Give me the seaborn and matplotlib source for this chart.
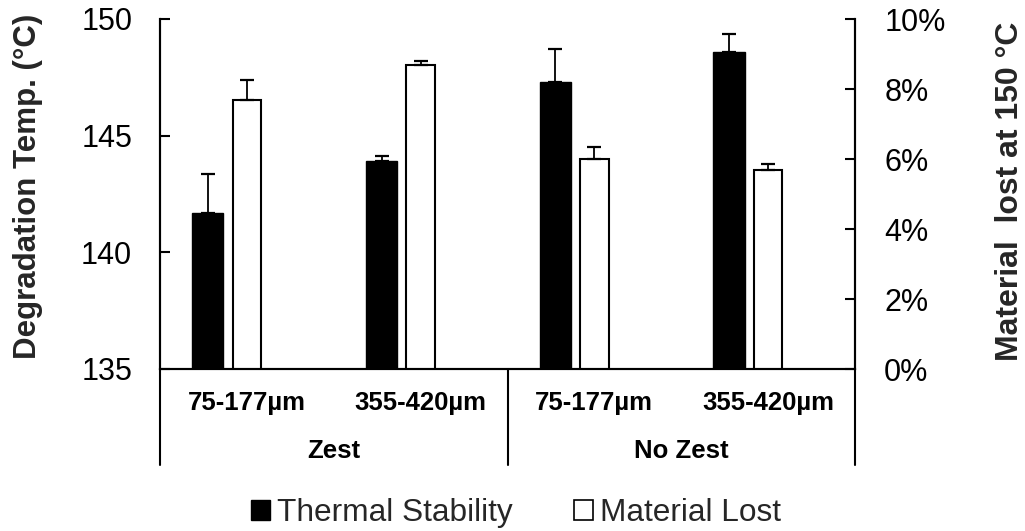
import numpy as np
import pandas as pd
import matplotlib
matplotlib.use("Agg")
import matplotlib.pyplot as plt
import matplotlib.transforms as mtransforms
from matplotlib.patches import Patch
from matplotlib.ticker import PercentFormatter, FixedLocator
import seaborn as sns

# ---------------- data ----------------
sizes = ["75-177µm", "355-420µm", "75-177µm", "355-420µm"]
groups = ["Zest", "No Zest"]
thermal = [141.7, 143.9, 147.3, 148.6]          # °C (left axis)
thermal_err = [1.65, 0.23, 1.41, 0.74]
lost = [0.0769, 0.0869, 0.0601, 0.0569]         # fraction (right axis)
lost_err = [0.0058, 0.0011, 0.0034, 0.0018]
left_ticks = [135, 140, 145, 150]
right_ticks = [0.0, 0.02, 0.04, 0.06, 0.08, 0.10]

sns.set_theme(style="ticks")
plt.rcParams["font.family"] = ["Liberation Sans", "DejaVu Sans"]

W, H = 1025, 531
fig = plt.figure(figsize=(W / 100, H / 100), dpi=100)
x0, x1, y0, y1 = 160, 855, 19, 369
ax = fig.add_axes([x0 / W, (H - y1) / H, (x1 - x0) / W, (y1 - y0) / H])
ax2 = ax.twinx()

idx = np.arange(len(sizes))
black_off = -0.225
df_t = pd.DataFrame({"pos": idx + black_off, "val": thermal})
df_l = pd.DataFrame({"pos": idx.astype(float), "val": lost})

sns.barplot(data=df_t, x="pos", y="val", native_scale=True, width=0.18,
            color="black", saturation=1, errorbar=None, ax=ax,
            edgecolor="black", linewidth=1.0)
sns.barplot(data=df_l, x="pos", y="val", native_scale=True, width=0.164,
            color="white", saturation=1, errorbar=None, ax=ax2,
            edgecolor="black", linewidth=1.5)

ax.errorbar(df_t["pos"], thermal, yerr=[np.zeros(4), thermal_err], fmt="none",
            ecolor="black", elinewidth=1.3, capsize=5, capthick=1.6)
ax2.errorbar(df_l["pos"], lost, yerr=[np.zeros(4), lost_err], fmt="none",
             ecolor="black", elinewidth=1.3, capsize=5, capthick=1.6)

for a in (ax, ax2):
    a.set_xlim(-0.5, 3.5)
    a.set_xlabel("")
    a.set_ylabel("")
    a.set_xticks([])
    a.spines["top"].set_visible(False)
    for s in ("left", "right", "bottom"):
        a.spines[s].set_linewidth(1.5)
        a.spines[s].set_color("black")

ax.set_ylim(135, 150)
ax.yaxis.set_major_locator(FixedLocator(left_ticks))
ax2.set_ylim(0, 0.10)
ax2.yaxis.set_major_locator(FixedLocator(right_ticks))
ax2.yaxis.set_major_formatter(PercentFormatter(1.0, decimals=0))

ax.tick_params(axis="y", direction="in", length=7, width=1.5, labelsize=22,
               pad=20, colors="black")
ax2.tick_params(axis="y", direction="in", length=7, width=1.5, labelsize=22,
                pad=21, colors="black")
ax.tick_params(axis="x", length=0)
ax2.tick_params(axis="x", length=0)

# multi-level category labels
trans = mtransforms.blended_transform_factory(ax.transData, ax.transAxes)
for i, s in enumerate(sizes):
    ax.text(i, -0.097, s, transform=trans, ha="center", va="center",
            fontsize=18.5, fontweight="bold", color="black")
for g, gname in enumerate(groups):
    ax.text(2 * g + 0.5, -0.233, gname, transform=trans, ha="center",
            va="center", fontsize=18.5, fontweight="bold", color="black")
for xv in (-0.5, 1.5, 3.5):
    ax.plot([xv, xv], [0, -0.274], transform=trans, color="black", lw=1.5,
            clip_on=False)

# axis titles
fig.text(28 / W, 1 - 186 / H, "Degradation Temp. (°C)", rotation=90,
         ha="center", va="center", fontsize=22.5, fontweight="bold")
fig.text(1010 / W, 1 - 191 / H, "Material  lost at 150 °C", rotation=90,
         ha="center", va="center", fontsize=23, fontweight="bold")

handles = [Patch(facecolor="black", edgecolor="black", label="Thermal Stability"),
           Patch(facecolor="white", edgecolor="black", lw=1.2, label="Material Lost")]
fig.legend(handles=handles, loc="center", bbox_to_anchor=(516 / W, 1 - 513 / H),
           ncol=2, frameon=False, fontsize=22.8, handlelength=0.6,
           handleheight=0.6, handletextpad=0.2, columnspacing=1.95,
           borderpad=0, borderaxespad=0)

fig.savefig("out.png", dpi=100)
